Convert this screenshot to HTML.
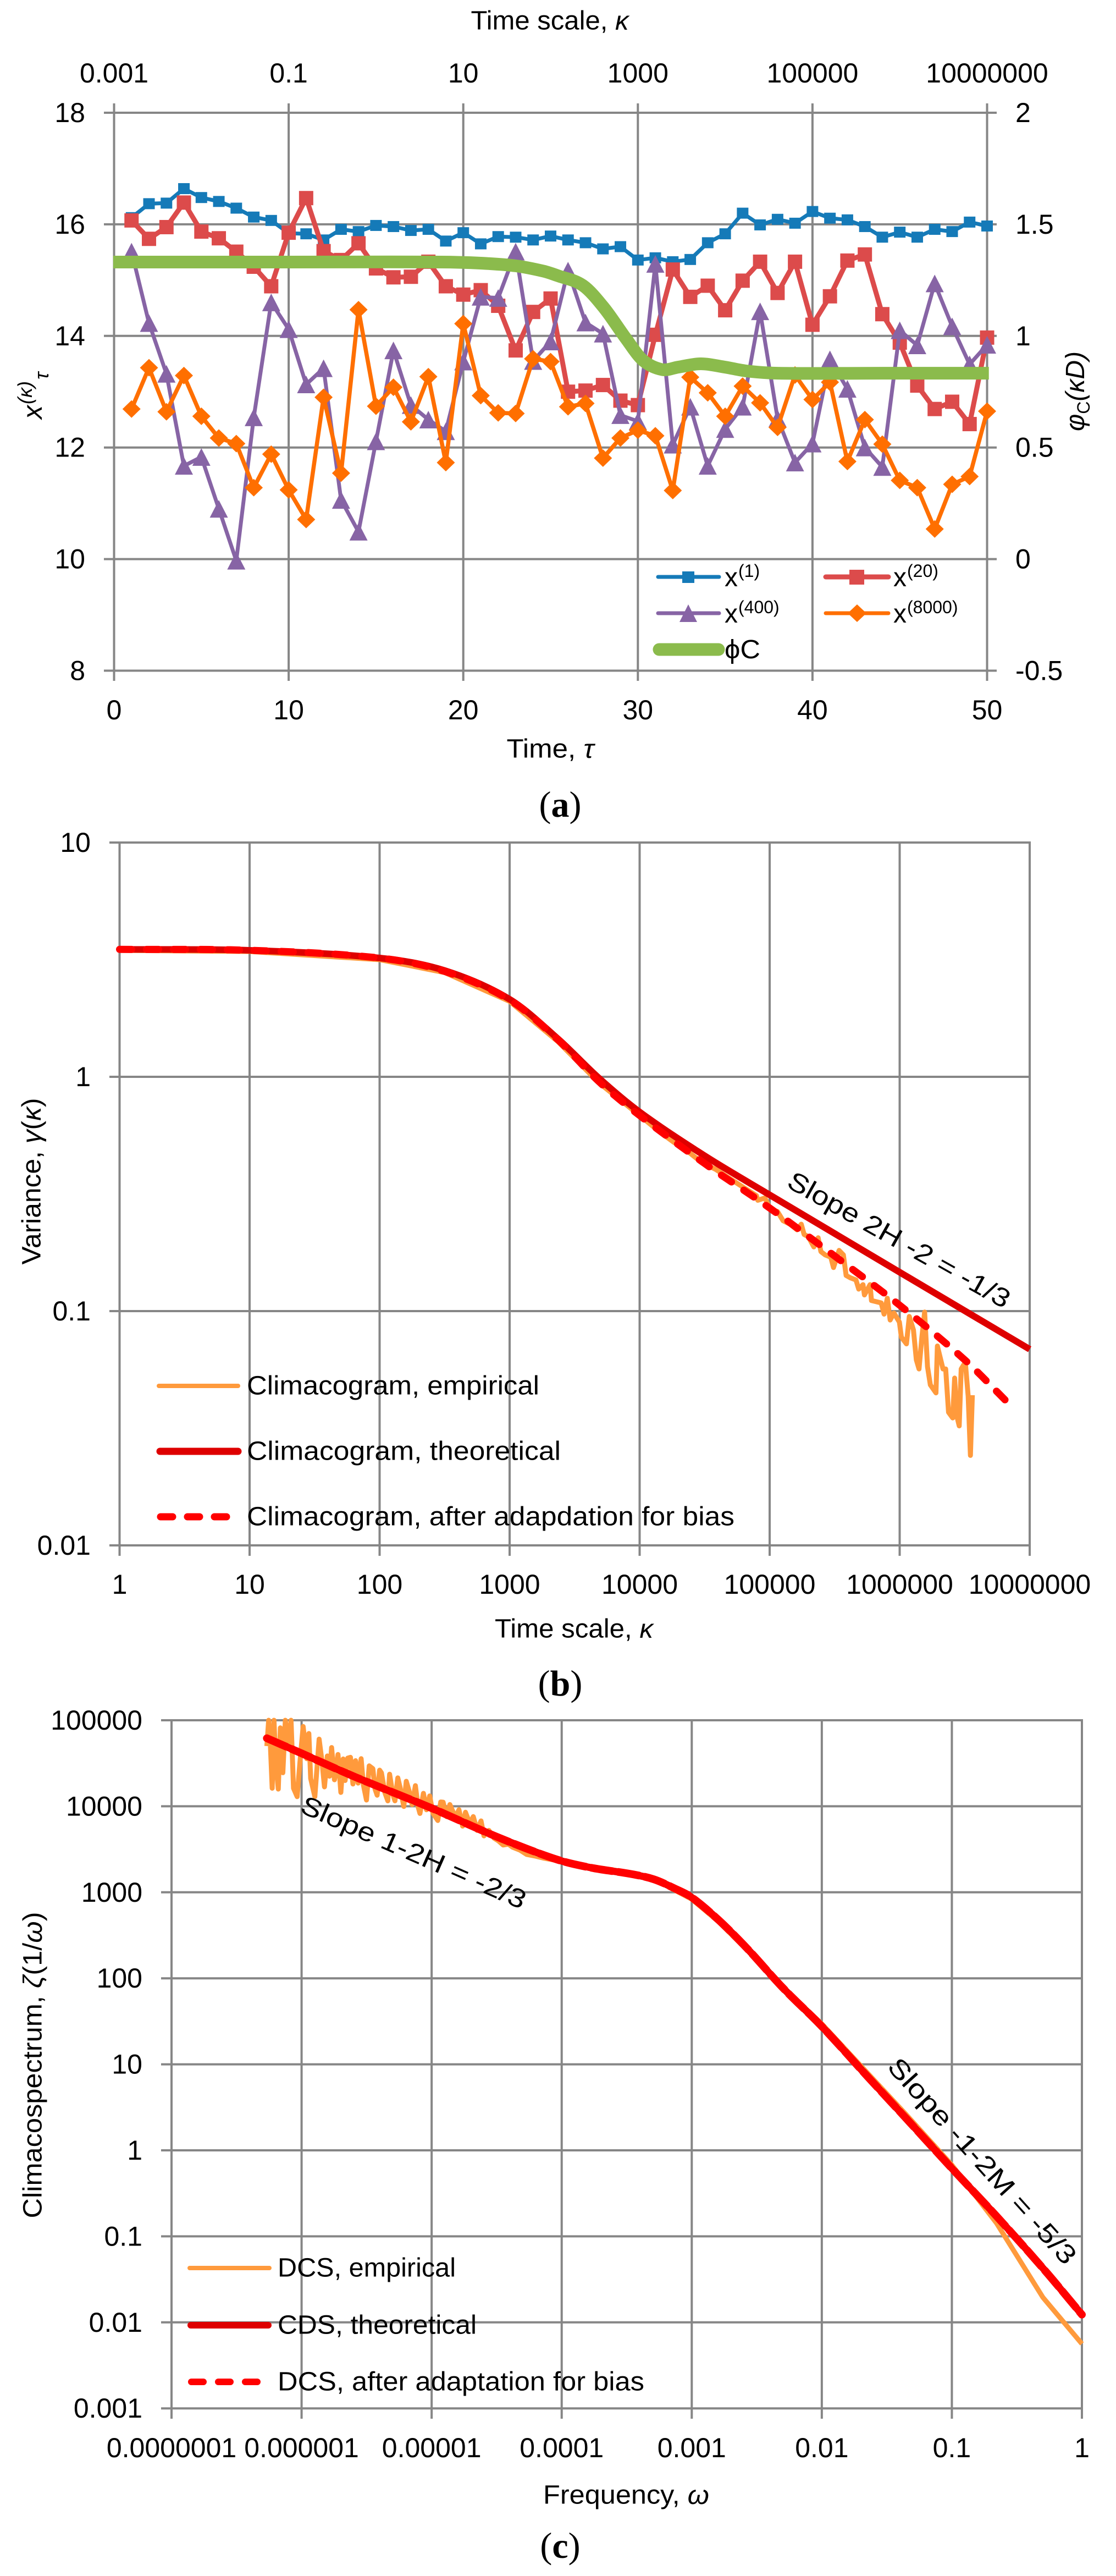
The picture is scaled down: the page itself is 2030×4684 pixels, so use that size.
<!DOCTYPE html>
<html lang="en">
<head>
<meta charset="utf-8">
<title>Climacogram figure</title>
<style>
html,body{margin:0;padding:0;background:#fff;}
svg{display:block;}
text{font-family:"Liberation Sans",sans-serif;fill:#000;}
.tk{font-size:50px;}
.ttl{font-size:48px;}
.lg{font-size:48px;}
.cap{font-family:"Liberation Serif",serif;font-size:66px;}
</style>
</head>
<body>
<svg id="fig" xmlns="http://www.w3.org/2000/svg" width="2030" height="4684" viewBox="0 0 2030 4684">
<rect x="0" y="0" width="2030" height="4684" fill="#fff"/>

<g id="panelA"></g>
<g id="panelB"></g>
<g id="panelC"></g>

<!-- Panel a titles -->
<text class="ttl" x="1000" y="38" dominant-baseline="central" text-anchor="middle" textLength="287" lengthAdjust="spacingAndGlyphs">Time scale, <tspan font-style="italic">κ</tspan></text>
<text class="ttl" x="1001" y="1362" dominant-baseline="central" text-anchor="middle" textLength="159" lengthAdjust="spacingAndGlyphs">Time, <tspan font-style="italic">τ</tspan></text>
<g>
  <text font-size="50" font-style="italic" transform="translate(76,762) rotate(-90)">x</text>
  <text font-size="36" font-style="italic" transform="translate(58,735) rotate(-90)">(κ)</text>
  <text font-size="36" font-style="italic" transform="translate(88,690) rotate(-90)">τ</text>
</g>
<text font-size="48" font-style="italic" transform="translate(1972,784) rotate(-90)">φ<tspan font-size="32" font-style="normal" dy="10">C</tspan><tspan dy="-10">(κD)</tspan></text>
<text class="cap" x="1019" y="1463" dominant-baseline="central" text-anchor="middle">(<tspan font-weight="bold">a</tspan>)</text>

<!-- Panel b titles -->
<text class="ttl" x="1044" y="2962" dominant-baseline="central" text-anchor="middle" textLength="288" lengthAdjust="spacingAndGlyphs">Time scale, <tspan font-style="italic">κ</tspan></text>
<text class="ttl" transform="translate(58,2148) rotate(-90)" dominant-baseline="central" text-anchor="middle" textLength="303" lengthAdjust="spacingAndGlyphs">Variance, <tspan font-style="italic">γ</tspan>(<tspan font-style="italic">κ</tspan>)</text>
<text class="ttl" transform="translate(1635,2255) rotate(29.3)" dominant-baseline="central" text-anchor="middle" textLength="456" lengthAdjust="spacingAndGlyphs">Slope 2H -2 = -1/3</text>
<text class="cap" x="1019" y="3061" dominant-baseline="central" text-anchor="middle">(<tspan font-weight="bold">b</tspan>)</text>

<!-- Panel c titles -->
<text class="ttl" x="1139" y="4537" dominant-baseline="central" text-anchor="middle" textLength="302" lengthAdjust="spacingAndGlyphs">Frequency, <tspan font-style="italic">ω</tspan></text>
<text class="ttl" transform="translate(60,3755) rotate(-90)" dominant-baseline="central" text-anchor="middle" textLength="557" lengthAdjust="spacingAndGlyphs">Climacospectrum, <tspan font-style="italic">ζ</tspan>(1/<tspan font-style="italic">ω</tspan>)</text>
<text class="ttl" transform="translate(752,3369) rotate(23.7)" dominant-baseline="central" text-anchor="middle" textLength="442" lengthAdjust="spacingAndGlyphs">Slope 1-2H = -2/3</text>
<text class="ttl" transform="translate(1786,3930) rotate(48)" dominant-baseline="central" text-anchor="middle" textLength="486" lengthAdjust="spacingAndGlyphs">Slope -1-2M = -5/3</text>
<text class="cap" x="1019" y="4629" dominant-baseline="central" text-anchor="middle">(<tspan font-weight="bold">c</tspan>)</text>

<!-- Legends (drawn last) -->
<g id="legendA">
  <g><line x1="1197" x2="1308" y1="1049" y2="1049" stroke="#157AB8" stroke-width="7" stroke-linecap="round"/><rect x="1241" y="1039" width="22" height="21" fill="#157AB8"/><text class="lg" x="1318" y="1066">x</text><text font-size="32" x="1343" y="1049">(1)</text></g>
  <g><line x1="1502" x2="1616" y1="1049" y2="1049" stroke="#DC4B4B" stroke-width="9" stroke-linecap="round"/><rect x="1545" y="1036" width="27" height="27" fill="#DC4B4B"/><text class="lg" x="1625" y="1066">x</text><text font-size="32" x="1650" y="1049">(20)</text></g>
  <g><line x1="1197" x2="1308" y1="1115" y2="1115" stroke="#8764A5" stroke-width="7" stroke-linecap="round"/><polygon points="1252,1099 1268,1131 1236,1131" fill="#8764A5"/><text class="lg" x="1318" y="1132">x</text><text font-size="32" x="1343" y="1115">(400)</text></g>
  <g><line x1="1502" x2="1616" y1="1115" y2="1115" stroke="#FF6F00" stroke-width="7" stroke-linecap="round"/><polygon points="1559,1099 1576,1115 1559,1131 1542,1115" fill="#FF6F00"/><text class="lg" x="1625" y="1132">x</text><text font-size="32" x="1650" y="1115">(8000)</text></g>
  <g><line x1="1199" x2="1307" y1="1181" y2="1181" stroke="#8BBB4C" stroke-width="23" stroke-linecap="round"/><text class="lg" x="1318" y="1197" textLength="65" lengthAdjust="spacingAndGlyphs">ϕC</text></g>
</g>
<g id="legendB">
  <g><line x1="289" x2="433" y1="2520" y2="2520" stroke="#FF9A3C" stroke-width="8" stroke-linecap="round"/><text class="lg" x="449" y="2520" dominant-baseline="central" textLength="532" lengthAdjust="spacingAndGlyphs">Climacogram, empirical</text></g>
  <g><line x1="291" x2="433" y1="2639" y2="2639" stroke="#DE0000" stroke-width="13" stroke-linecap="round"/><text class="lg" x="449" y="2639" dominant-baseline="central" textLength="571" lengthAdjust="spacingAndGlyphs">Climacogram, theoretical</text></g>
  <g><line x1="292" x2="420" y1="2758" y2="2758" stroke="#FF0000" stroke-width="13" stroke-linecap="round" stroke-dasharray="22 27"/><text class="lg" x="449" y="2758" dominant-baseline="central" textLength="887" lengthAdjust="spacingAndGlyphs">Climacogram, after adapdation for bias</text></g>
</g>
<g id="legendC">
  <g><line x1="345" x2="490" y1="4124" y2="4124" stroke="#FF9A3C" stroke-width="8" stroke-linecap="round"/><text class="lg" x="505" y="4124" dominant-baseline="central" textLength="324" lengthAdjust="spacingAndGlyphs">DCS, empirical</text></g>
  <g><line x1="347" x2="488" y1="4228" y2="4228" stroke="#DE0000" stroke-width="12" stroke-linecap="round"/><text class="lg" x="505" y="4228" dominant-baseline="central" textLength="362" lengthAdjust="spacingAndGlyphs">CDS, theoretical</text></g>
  <g><line x1="348" x2="470" y1="4331" y2="4331" stroke="#FF0000" stroke-width="12" stroke-linecap="round" stroke-dasharray="22 27"/><text class="lg" x="505" y="4331" dominant-baseline="central" textLength="667" lengthAdjust="spacingAndGlyphs">DCS, after adaptation for bias</text></g>
</g>
</svg>

<script>
/* ---------- Panel (a) data ---------- */
const aTimeTicks = [0, 10, 20, 30, 40, 50];
const aTopTicks = ["0.001", "0.1", "10", "1000", "100000", "10000000"];
const aLeftTicks = [18, 16, 14, 12, 10, 8];
const aRightTicks = [2, 1.5, 1, 0.5, 0, -0.5];
const x1Values = [16.12,16.37,16.38,16.64,16.48,16.41,16.29,16.13,16.07,15.84,15.83,15.72,15.91,15.87,15.98,15.96,15.89,15.91,15.7,15.85,15.65,15.78,15.77,15.72,15.79,15.72,15.67,15.56,15.6,15.36,15.4,15.33,15.37,15.67,15.83,16.2,15.99,16.09,16.02,16.23,16.11,16.08,15.96,15.77,15.86,15.77,15.91,15.87,16.04,15.97];
const x20Values = [16.07,15.74,15.95,16.39,15.87,15.75,15.51,15.24,14.89,15.85,16.47,15.52,15.36,15.66,15.21,15.05,15.06,15.33,14.89,14.74,14.82,14.54,13.74,14.43,14.67,13.0,13.02,13.12,12.84,12.76,14.02,15.19,14.7,14.9,14.46,14.99,15.33,14.77,15.33,14.2,14.71,15.35,15.46,14.39,13.88,13.11,12.69,12.82,12.42,13.97];
const x400Values = [15.51,14.23,13.32,11.67,11.83,10.9,9.97,12.54,14.6,14.12,13.13,13.42,11.06,10.49,12.11,13.74,12.76,12.5,12.29,13.54,14.7,14.68,15.51,13.55,13.9,15.17,14.24,14.04,12.58,12.47,15.29,12.05,12.73,11.67,12.33,12.73,14.44,12.52,11.73,12.07,13.58,13.05,12.0,11.65,14.1,13.83,14.94,14.17,13.49,13.84];
const x8000Values = [12.69,13.43,12.64,13.29,12.56,12.17,12.07,11.28,11.88,11.24,10.71,12.9,11.54,14.47,12.74,13.08,12.46,13.27,11.73,14.22,12.93,12.62,12.61,13.59,13.54,12.73,12.79,11.81,12.17,12.31,12.21,11.23,13.26,12.98,12.56,13.1,12.8,12.36,13.3,12.86,13.17,11.75,12.5,12.06,11.41,11.28,10.54,11.34,11.48,12.65];
const phiTau = [-0.05,10,18.7,21,23,24.6,25.4,26.85,28.07,29.3,30.3,31.4,32.3,33.6,35,36.2,38,44,50.1];
const phiValues = [1.331,1.331,1.331,1.326,1.314,1.29,1.27,1.226,1.125,0.99,0.89,0.849,0.86,0.875,0.86,0.843,0.833,0.833,0.833];

/* ---------- Panel (b) data (log10 of kappa / log10 of variance) ---------- */
const bXTicks = ["1","10","100","1000","10000","100000","1000000","10000000"];
const bYTicks = ["10","1","0.1","0.01"];
const bTheoryLogK = [0,1,2,2.5,3,3.372,3.686,4,4.5,5,6,7];
const bTheoryLogV = [0.544,0.54,0.507,0.4537,0.331,0.162,-0.005,-0.15,-0.337,-0.504,-0.834,-1.163];
const bAdaptedLogK = [0,1,2,2.5,3,3.372,3.686,4,4.5,5,5.5,6,6.5,6.818];
const bAdaptedLogV = [0.544,0.54,0.507,0.45,0.328,0.158,-0.02,-0.165,-0.37,-0.56,-0.765,-0.975,-1.208,-1.383];
const bEmpiricalLogK = [0,1,2,2.5,3,3.372,3.686,4,4.154,4.262,4.370,4.478,4.585,4.693,4.801,4.898,4.909,4.963,5.006,5.060,5.103,5.157,5.211,5.243,5.265,5.297,5.340,5.373,5.394,5.427,5.470,5.491,5.534,5.567,5.588,5.621,5.664,5.685,5.718,5.729,5.772,5.783,5.858,5.880,5.905,5.927,5.955,5.998,6.013,6.052,6.074,6.106,6.128,6.149,6.171,6.192,6.214,6.236,6.279,6.290,6.333,6.354,6.376,6.408,6.423,6.441,6.458,6.473,6.505,6.527,6.544,6.559];
const bEmpiricalLogV = [0.54,0.535,0.5,0.445,0.322,0.15,-0.025,-0.165,-0.235,-0.279,-0.318,-0.366,-0.395,-0.434,-0.473,-0.507,-0.527,-0.517,-0.566,-0.575,-0.614,-0.629,-0.653,-0.629,-0.673,-0.682,-0.726,-0.687,-0.746,-0.760,-0.770,-0.814,-0.741,-0.760,-0.848,-0.858,-0.867,-0.906,-0.887,-0.931,-0.887,-0.955,-0.965,-1.013,-0.945,-1.038,-1.008,-1.047,-1.111,-1.140,-1.023,-1.081,-1.208,-1.247,-1.111,-1.004,-1.237,-1.315,-1.349,-1.149,-1.247,-1.247,-1.432,-1.456,-1.286,-1.451,-1.490,-1.247,-1.218,-1.363,-1.616,-1.359];

/* ---------- Panel (c) data (log10 of frequency / log10 of spectrum) ---------- */
const cXTicks = ["0.0000001","0.000001","0.00001","0.0001","0.001","0.01","0.1","1"];
const cYTicks = ["100000","10000","1000","100","10","1","0.1","0.01","0.001"];
const cTheoryLogW = [-6.267,-6.004,-5.584,-5.003,-4.49,-4.03,-3.755,-3.48,-3.29,-3.125,-3.0,-2.795,-2.576,-2.3,-2.0,-1.65,-1.348,-1.0,-0.657,-0.3,0];
const cTheoryLogZ = [4.791,4.618,4.338,3.98,3.64,3.378,3.28,3.216,3.15,3.04,2.94,2.68,2.35,1.89,1.44,0.86,0.365,-0.21,-0.765,-1.37,-1.91];
const cAdaptedLogW = [-6.267,-6.004,-5.584,-5.003,-4.49,-4.03,-3.755,-3.48,-3.29,-3.125,-3.0,-2.795,-2.576,-2.3,-2.0,-1.65,-1.348,-1.0,-0.657,-0.3,0];
const cAdaptedLogZ = [4.791,4.618,4.338,3.98,3.64,3.378,3.28,3.216,3.15,3.04,2.94,2.68,2.35,1.89,1.44,0.86,0.365,-0.21,-0.765,-1.37,-1.91];
const cEmpiricalLogW = [-6.267,-6.253,-6.240,-6.226,-6.212,-6.199,-6.179,-6.163,-6.144,-6.125,-6.103,-6.081,-6.062,-6.034,-6.012,-5.988,-5.960,-5.944,-5.930,-5.898,-5.865,-5.843,-5.824,-5.802,-5.785,-5.769,-5.747,-5.720,-5.698,-5.680,-5.665,-5.645,-5.624,-5.605,-5.585,-5.565,-5.542,-5.525,-5.501,-5.48,-5.452,-5.435,-5.419,-5.40,-5.386,-5.36,-5.337,-5.323,-5.30,-5.282,-5.26,-5.241,-5.214,-5.195,-5.173,-5.15,-5.125,-5.105,-5.090,-5.063,-5.04,-5.015,-4.99,-4.953,-4.93,-4.912,-4.885,-4.86,-4.817,-4.79,-4.762,-4.74,-4.707,-4.68,-4.65,-4.62,-4.598,-4.56,-4.52,-4.488,-4.45,-4.41,-4.379,-4.32,-4.269,-4.2,-4.133,-3.755,-3.48,-3.29,-3.125,-3.0,-2.795,-2.576,-2.3,-2.0,-1.65,-1.348,-1.0,-0.657,-0.30,0];
const cEmpiricalLogZ = [4.700,5.0,4.716,4.210,5.0,4.520,4.200,4.912,4.390,5.0,4.716,5.0,4.210,4.112,4.520,4.928,4.553,4.846,4.324,4.112,4.781,4.520,4.226,4.585,4.35,4.683,4.308,4.602,4.161,4.55,4.3,4.56,4.569,4.259,4.53,4.27,4.553,4.25,4.073,4.47,4.438,4.2,4.129,4.42,4.390,4.16,4.063,4.373,4.15,4.063,4.33,4.210,3.998,4.29,4.178,4.02,4.24,4.0,3.917,4.15,3.96,4.12,3.92,3.835,4.05,4.047,3.88,4.02,3.87,3.96,3.770,3.93,3.80,3.88,3.72,3.83,3.656,3.72,3.63,3.60,3.55,3.56,3.525,3.49,3.44,3.42,3.395,3.295,3.23,3.155,3.02,2.92,2.66,2.33,1.9,1.47,0.9,0.41,-0.17,-0.845,-1.71,-2.25];

/* ---------- Axis functions ---------- */
const xA = t => 207.5 + t * 31.76;
const yL = v => 205 + (18 - v) * 101.45;
const yR = p => 205 + (2 - p) * 405.8;
const xB = lk => 217.5 + lk * 236.5;
const yB = lv => 1532 + (1 - lv) * 426;
const xC = lw => 1968 + lw * 236.57;
const yC = lz => 3128 + (5 - lz) * 156.4;

const SVGNS = "http://www.w3.org/2000/svg";
const GRID = "#868686";
function mk(tag, attrs, parent) {
  const el = document.createElementNS(SVGNS, tag);
  for (const k in attrs) el.setAttribute(k, attrs[k]);
  parent.appendChild(el);
  return el;
}
function polyD(xs, ys) {
  return xs.map((x, i) => (i ? "L" : "M") + x.toFixed(1) + " " + ys[i].toFixed(1)).join("");
}
function smoothD(xs, ys) {
  let d = "M" + xs[0].toFixed(1) + " " + ys[0].toFixed(1);
  for (let i = 0; i < xs.length - 1; i++) {
    const x0 = xs[Math.max(i - 1, 0)], y0 = ys[Math.max(i - 1, 0)];
    const x1 = xs[i], y1 = ys[i], x2 = xs[i + 1], y2 = ys[i + 1];
    const x3 = xs[Math.min(i + 2, xs.length - 1)], y3 = ys[Math.min(i + 2, xs.length - 1)];
    const k = (x2 - x1) / 3;
    const s1 = (y2 - y0) / Math.max(x2 - x0, 1), s2 = (y3 - y1) / Math.max(x3 - x1, 1);
    d += "C" + (x1 + k).toFixed(1) + " " + (y1 + k * s1).toFixed(1) + " " + (x2 - k).toFixed(1) + " " + (y2 - k * s2).toFixed(1) + " " + x2.toFixed(1) + " " + y2.toFixed(1);
  }
  return d;
}

/* ---------- Panel (a) ---------- */
const pa = document.getElementById("panelA");
aTimeTicks.forEach((t, i) => {
  const g = mk("line", {x1: xA(t), x2: xA(t), y1: 188, y2: 1238, stroke: GRID, "stroke-width": 4}, pa);
  
  
  const b = mk("text", {class: "tk", x: xA(t), y: 1291, "text-anchor": "middle", "dominant-baseline": "central"}, pa);
  b.textContent = t;
  
  
  const top = mk("text", {class: "tk", x: xA(t), y: 133, "text-anchor": "middle", "dominant-baseline": "central"}, pa);
  top.textContent = aTopTicks[i];
  
  
});
aLeftTicks.forEach((v, i) => {
  const g = mk("line", {x1: 189, x2: 1813, y1: yL(v), y2: yL(v), stroke: GRID, "stroke-width": 4}, pa);
  
  
  const l = mk("text", {class: "tk", x: 155, y: yL(v), "text-anchor": "end", "dominant-baseline": "central"}, pa);
  l.textContent = v;
  
  
  const r = mk("text", {class: "tk", x: 1847, y: yR(aRightTicks[i]), "dominant-baseline": "central"}, pa);
  r.textContent = aRightTicks[i];
  
  
});

function seriesLine(values, color, width, parent) {
  const xs = values.map((_, i) => xA(i + 1));
  const ys = values.map(v => yL(v));
  const p = mk("path", {d: polyD(xs, ys), fill: "none", stroke: color, "stroke-width": width, "stroke-linejoin": "round"}, parent);
  return p;
}
const sBlue = mk("g", {}, pa);


const blueLine = seriesLine(x1Values, "#157AB8", 7, sBlue);


x1Values.forEach((v, i) => {
  const m = mk("rect", {x: xA(i + 1) - 10.5, y: yL(v) - 10, width: 21, height: 20, fill: "#157AB8"}, sBlue);
  
  
});
const sRed = mk("g", {}, pa);


const redLine = seriesLine(x20Values, "#DC4B4B", 9, sRed);


x20Values.forEach((v, i) => {
  const m = mk("rect", {x: xA(i + 1) - 13, y: yL(v) - 13, width: 26, height: 26, fill: "#DC4B4B"}, sRed);
  
  
});
const sPurple = mk("g", {}, pa);


const purpleLine = seriesLine(x400Values, "#8764A5", 7, sPurple);


x400Values.forEach((v, i) => {
  const cx = xA(i + 1), cy = yL(v);
  const m = mk("polygon", {points: cx + "," + (cy - 16) + " " + (cx + 16.5) + "," + (cy + 16) + " " + (cx - 16.5) + "," + (cy + 16), fill: "#8764A5"}, sPurple);
  
  
});
const sOrange = mk("g", {}, pa);


const orangeLine = seriesLine(x8000Values, "#FF6F00", 7.5, sOrange);


x8000Values.forEach((v, i) => {
  const cx = xA(i + 1), cy = yL(v);
  const m = mk("polygon", {points: cx + "," + (cy - 16) + " " + (cx + 16.5) + "," + cy + " " + cx + "," + (cy + 16) + " " + (cx - 16.5) + "," + cy, fill: "#FF6F00"}, sOrange);
  
  
});
const phiLine = mk("path", {d: smoothD(phiTau.map(xA), phiValues.map(yR)), fill: "none", stroke: "#8BBB4C", "stroke-width": 23}, pa);



/* ---------- Panel (b) ---------- */
const pb = document.getElementById("panelB");
bXTicks.forEach((t, i) => {
  const g = mk("line", {x1: xB(i), x2: xB(i), y1: 1530, y2: 2829, stroke: GRID, "stroke-width": 4}, pb);
  
  
  const l = mk("text", {class: "tk", x: xB(i), y: 2881, "text-anchor": "middle", "dominant-baseline": "central"}, pb);
  l.textContent = t;
  
  
});
bYTicks.forEach((t, i) => {
  const lv = 1 - i;
  const g = mk("line", {x1: 199, x2: 1875, y1: yB(lv), y2: yB(lv), stroke: GRID, "stroke-width": 4}, pb);
  
  
  const l = mk("text", {class: "tk", x: 165, y: yB(lv), "text-anchor": "end", "dominant-baseline": "central"}, pb);
  l.textContent = t;
  
  
});
const bEmp = mk("path", {d: polyD(bEmpiricalLogK.map(xB), bEmpiricalLogV.map(yB)), fill: "none", stroke: "#FF9A3C", "stroke-width": 9, "stroke-linejoin": "round"}, pb);


const bThe = mk("path", {d: smoothD(bTheoryLogK.map(xB), bTheoryLogV.map(yB)), fill: "none", stroke: "#DE0000", "stroke-width": 12}, pb);


const bAda = mk("path", {d: smoothD(bAdaptedLogK.map(xB), bAdaptedLogV.map(yB)), fill: "none", stroke: "#FF0000", "stroke-width": 13, "stroke-linecap": "round", "stroke-dasharray": "22 27"}, pb);



/* ---------- Panel (c) ---------- */
const pc = document.getElementById("panelC");
cXTicks.forEach((t, i) => {
  const lw = i - 7;
  const g = mk("line", {x1: xC(lw), x2: xC(lw), y1: 3126, y2: 4398, stroke: GRID, "stroke-width": 4}, pc);
  
  
  const l = mk("text", {class: "tk", x: xC(lw), y: 4451, "text-anchor": "middle", "dominant-baseline": "central"}, pc);
  l.textContent = t;
  
  
});
cYTicks.forEach((t, i) => {
  const lz = 5 - i;
  const g = mk("line", {x1: 293, x2: 1970, y1: yC(lz), y2: yC(lz), stroke: GRID, "stroke-width": 4}, pc);
  
  
  const l = mk("text", {class: "tk", x: 259, y: yC(lz), "text-anchor": "end", "dominant-baseline": "central"}, pc);
  l.textContent = t;
  
  
});
const cEmp = mk("path", {d: polyD(cEmpiricalLogW.map(xC), cEmpiricalLogZ.map(yC)), fill: "none", stroke: "#FF9A3C", "stroke-width": 9, "stroke-linejoin": "round"}, pc);


const cThe = mk("path", {d: smoothD(cTheoryLogW.map(xC), cTheoryLogZ.map(yC)), fill: "none", stroke: "#DE0000", "stroke-width": 13}, pc);


const cAda = mk("path", {d: smoothD(cAdaptedLogW.map(xC), cAdaptedLogZ.map(yC)), fill: "none", stroke: "#FF0000", "stroke-width": 14, "stroke-linecap": "round", "stroke-dasharray": "38 11"}, pc);


</script>
</body>
</html>
